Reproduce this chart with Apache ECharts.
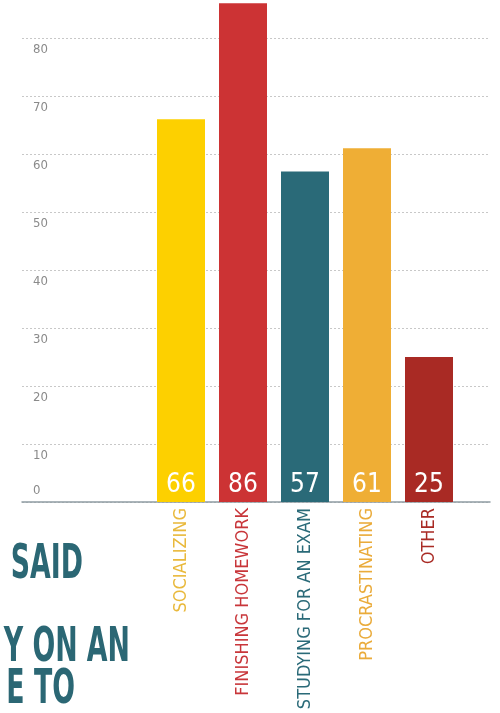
<!DOCTYPE html>
<html>
<head>
<meta charset="utf-8">
<script src="https://cdn.jsdelivr.net/npm/echarts@6/dist/echarts.min.js"></script>
<style>
  html, body { margin: 0; padding: 0; background: #fff; }
  #main { width: 500px; height: 713px; }
</style>
</head>
<body>
<div id="main"></div>
<script>
// data
var categories = ['SOCIALIZING', 'FINISHING HOMEWORK', 'STUDYING FOR AN EXAM', 'PROCRASTINATING', 'OTHER'];
var values = [66, 86, 57, 61, 25];
var barColors = ['#fdd000', '#cc3334', '#2a6a78', '#efae35', '#a92a24'];
var labelColors = ['#e9b93c', '#c8363a', '#2a6a78', '#eaab3a', '#a92a24'];
var titleLines = ['SAID', 'Y ON AN', 'E TO'];

var narrow = '"DejaVu Sans Condensed", "Liberation Sans Narrow", sans-serif';

var myChart = echarts.init(document.getElementById('main'), null, { renderer: 'canvas' });

var richX = {};
labelColors.forEach(function (c, i) {
	richX['c' + i] = { color: c, fontFamily: narrow, fontSize: 18 };
});

var option = {
	animation: false,
	grid: [
		// background grid: gridlines + y labels
		{ left: 22, right: 10, top: 38, bottom: 211, outerBoundsMode: 'none', containLabel: false },
		// bars
		{ left: 150, right: 40, top: 38, bottom: 211, outerBoundsMode: 'none', containLabel: false }
	],
	xAxis: [
		{
			type: 'category', gridIndex: 0, data: [''],
			axisLine: { show: true, lineStyle: { color: '#8e9ca2', width: 1.5 } },
			axisTick: { show: false }, axisLabel: { show: false }
		},
		{
			type: 'category', gridIndex: 1, data: categories,
			axisLine: { show: false }, axisTick: { show: false },
			axisLabel: {
				rotate: 90,
				margin: 6,
				formatter: function (v) {
					return '{c' + categories.indexOf(v) + '|' + v + '}';
				},
				rich: richX
			}
		}
	],
	yAxis: [
		{
			type: 'value', gridIndex: 0, min: 0, max: 80, interval: 10,
			axisLine: { show: false }, axisTick: { show: false },
			splitLine: { lineStyle: { color: '#c8c8c8', type: [2, 2], width: 1 } },
			axisLabel: {
				inside: true, margin: 11, showMinLabel: false,
				verticalAlign: 'top', padding: [5, 0, 0, 0],
				color: '#8a8a8a', fontFamily: narrow, fontSize: 13
			}
		},
		{
			// only the 0 label, sitting above the axis line
			type: 'value', gridIndex: 0, min: 0, max: 80, interval: 10,
			axisLine: { show: false }, axisTick: { show: false }, splitLine: { show: false },
			position: 'left',
			axisLabel: {
				inside: true, margin: 11,
				verticalAlign: 'bottom', padding: [0, 0, 5, 0],
				color: '#8a8a8a', fontFamily: narrow, fontSize: 13,
				formatter: function (v) { return v === 0 ? '0' : ''; }
			}
		},
		{
			type: 'value', gridIndex: 1, min: 0, max: 80, interval: 10, show: false
		}
	],
	graphic: titleLines.map(function (t, i) {
		var pos = [[83, 566], [130, 649], [75, 691]][i];
		return {
			type: 'text',
			x: pos[0], y: pos[1],
			scaleX: 0.62,
			style: {
				text: t,
				fill: '#2b6774',
				font: 'bold 48px ' + narrow,
				textAlign: 'right',
				textVerticalAlign: 'middle'
			}
		};
	}),
	series: [
		{
			type: 'bar',
			xAxisIndex: 1, yAxisIndex: 2,
			barWidth: 48,
			clip: false,
			data: values.map(function (v, i) {
				return { value: v, itemStyle: { color: barColors[i] } };
			}),
			label: {
				show: true,
				position: 'insideBottom',
				distance: 4,
				color: '#fff',
				fontFamily: narrow,
				fontSize: 26
			}
		}
	]
};

myChart.setOption(option);
</script>
</body>
</html>
